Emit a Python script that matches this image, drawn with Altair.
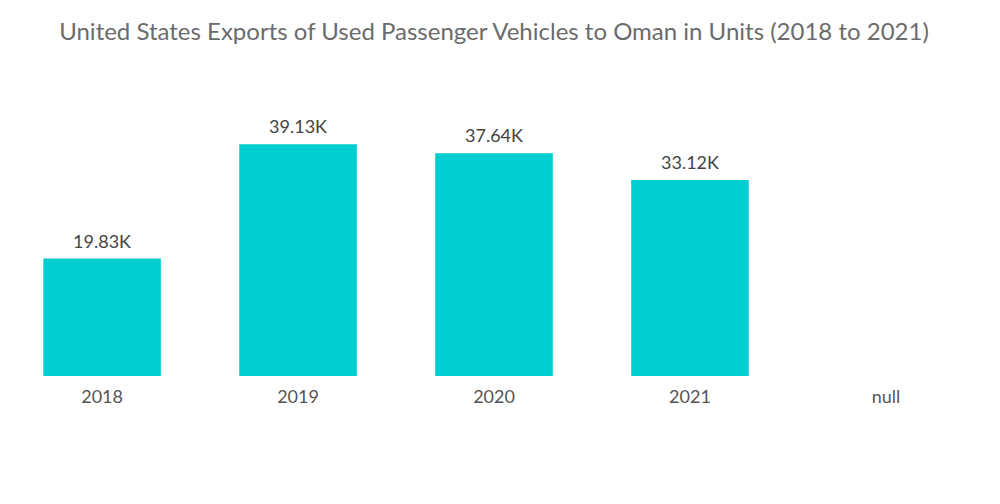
import altair as alt
import pandas as pd

years = ["2018", "2019", "2020", "2021", "null"]
values = [19830, 39130, 37640, 33120, None]

df = pd.DataFrame({"year": years, "value": values})

base = alt.Chart(df).encode(
    x=alt.X("year:N", sort=years, title=None,
            scale=alt.Scale(paddingInner=0.4, paddingOuter=0.18),
            axis=alt.Axis(labelAngle=0, ticks=False, domain=False, labelPadding=12,
                          labelFontSize=18, labelColor="#555555", labelFont="Lato",
                          grid=False)),
)

bars = base.mark_bar(color="#00CED1").encode(
    y=alt.Y("value:Q", scale=alt.Scale(domain=[0, 50000]), axis=None, title=None)
)

labels = base.transform_filter("isValid(datum.value)").transform_calculate(
    label="format(datum.value/1000, '.2f') + 'K'"
).mark_text(baseline="bottom", dy=-7, fontSize=18, color="#444444", font="Lato").encode(
    y=alt.Y("value:Q"), text="label:N"
)

chart = (bars + labels).properties(
    width=972, height=296,
    title=alt.TitleParams(
        "United States Exports of Used Passenger Vehicles to Oman in Units (2018 to 2021)",
        fontSize=24, font="Lato", fontWeight="normal", color="#6b6b6b",
        anchor="middle", offset=35),
    autosize=alt.AutoSizeParams(type="none"),
    padding={"left": 0, "top": 72, "right": 12, "bottom": 100},
).configure_view(stroke=None)

chart.save("out.html", embed_options={"renderer": "svg", "actions": False})
